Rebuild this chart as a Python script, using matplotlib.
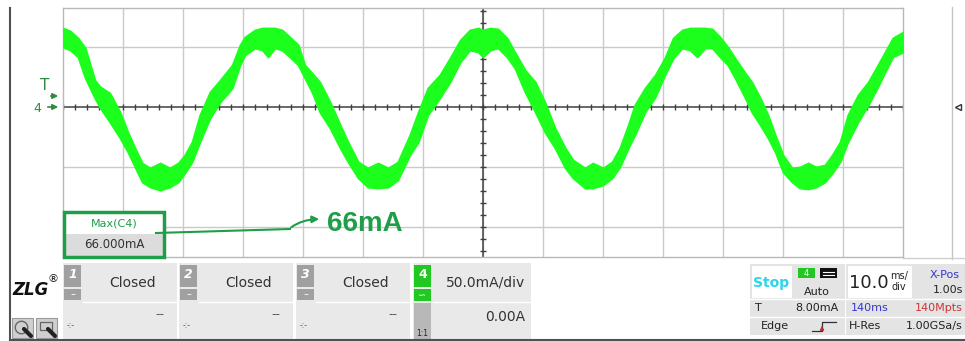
import numpy as np
import matplotlib.pyplot as plt
from matplotlib.patches import Rectangle, FancyArrowPatch

# ---- waveform envelope (time in ms, current in mA) ----
t_ms = [0.0, 1.2, 2.5, 3.7, 5.3, 6.2, 7.8, 9.5, 10.8, 12.0,
        13.2, 14.5, 16.2, 17.8, 19.2, 20.3, 21.5, 22.8, 24.5, 26.2,
        28.2, 29.5, 30.3, 32.0, 33.2, 34.2, 35.3, 36.5, 37.8, 39.2,
        40.3, 41.5, 42.8, 44.5, 46.2, 47.5, 49.2, 50.8, 52.5, 54.2,
        55.8, 57.8, 59.2, 60.8, 62.8, 64.5, 66.2, 67.8, 69.2, 70.0,
        71.2, 72.5, 74.0, 75.3, 77.0, 78.7, 80.3, 82.0, 83.7, 85.0,
        87.0, 88.3, 90.0, 91.5, 92.8, 94.2, 95.3, 97.0, 98.7, 100.3,
        101.7, 103.2, 104.5, 105.7, 107.0, 108.2, 109.5, 110.8, 112.0, 113.7,
        114.8, 116.2, 117.5, 118.7, 120.0, 121.5, 122.8, 124.2, 125.5, 127.0,
        128.2, 129.5, 130.8, 132.5, 134.2, 135.8, 137.0, 138.3, 140.0]

upper_ma = [65.8, 63.3, 57.5, 49.2, 22.5, 16.7, 11.7, -4.2, -20.8, -34.2,
            -46.7, -50.8, -46.7, -50.8, -46.7, -40.0, -29.2, -6.7, 12.5, 22.5,
            35.0, 51.7, 58.3, 64.2, 65.8, 65.8, 65.8, 64.2, 58.3, 51.7,
            35.0, 28.3, 20.8, 4.2, -15.0, -29.2, -45.8, -50.8, -46.7, -50.8,
            -45.8, -23.3, -4.2, 15.8, 26.7, 40.8, 55.8, 64.2, 65.8, 64.2,
            65.8, 65.0, 57.5, 45.8, 30.8, 20.8, 4.2, -17.5, -34.2, -44.2,
            -50.8, -46.7, -50.8, -45.8, -34.2, -15.0, 1.7, 15.8, 26.7, 40.8,
            57.5, 64.2, 65.8, 65.8, 65.8, 65.0, 58.3, 50.0, 40.8, 28.3,
            20.8, 7.5, -6.7, -23.3, -40.0, -50.8, -50.0, -46.7, -50.0, -48.3,
            -40.0, -29.2, -6.7, 10.0, 20.8, 35.0, 45.8, 57.5, 62.5]

lower_ma = [50.0, 47.5, 41.7, 24.2, 7.5, -0.8, -12.5, -25.8, -37.5, -50.0,
            -62.5, -66.7, -69.2, -66.7, -62.5, -55.0, -45.8, -29.2, -9.2, 4.2,
            15.8, 35.0, 43.3, 49.2, 47.5, 41.7, 49.2, 47.5, 41.7, 35.0,
            24.2, 12.5, -4.2, -17.5, -34.2, -45.8, -59.2, -66.7, -67.5, -66.7,
            -60.8, -40.0, -29.2, -6.7, 7.5, 20.8, 37.5, 47.5, 45.8, 41.7,
            47.5, 49.2, 41.7, 32.5, 12.5, -4.2, -20.8, -34.2, -50.8, -59.2,
            -67.5, -67.5, -65.0, -59.2, -50.0, -34.2, -23.3, -4.2, 8.3, 26.7,
            40.8, 49.2, 47.5, 41.7, 49.2, 49.2, 41.7, 35.0, 24.2, 7.5,
            -4.2, -15.0, -25.8, -37.5, -54.2, -62.5, -67.5, -68.3, -66.7, -62.5,
            -55.0, -45.8, -29.2, -12.5, 1.7, 16.7, 29.2, 41.7, 45.8]

# scope settings shown on screen
ms_per_div = 10
ma_per_div = 50
n_div_x = 14
grid_ma = [50, -50, -100]

channel_ids = ['1', '2', '3']
channel_state = 'Closed'
meas_name = 'Max(C4)'
meas_value = '66.000mA'
callout_text = '66mA'

W, H = 965, 341
GREEN = '#1e9e48'
TRACE = '#1cff1c'
GRID = '#cacaca'
AXIS = '#404040'

fig = plt.figure(figsize=(W / 100, H / 100), dpi=100)

# ---- waveform area: pixel box x 63..903, y 8..257 ----
ax = fig.add_axes([63 / W, 1 - 257 / H, 840 / W, 249 / H])
ax.set_xlim(0, ms_per_div * n_div_x)
ax.set_ylim(-125, 82.5)
ax.set_xticks([])
ax.set_yticks([])
for s in ax.spines.values():
    s.set_color('#b8b8b8')
    s.set_linewidth(1)

for k in range(1, n_div_x):
    ax.axvline(k * ms_per_div, color=GRID, lw=1, zorder=1)
for g in grid_ma:
    ax.axhline(g, color=GRID, lw=1, zorder=1)

# centre cross with minor ticks (5 per division)
t_mid = ms_per_div * n_div_x / 2
ax.axhline(0, color=AXIS, lw=1.1, zorder=2)
ax.axvline(t_mid, color=AXIS, lw=1.1, zorder=2)
xt = np.arange(0, ms_per_div * n_div_x + 0.1, ms_per_div / 5)
ax.plot(xt, np.zeros_like(xt), ls='none', marker='|', ms=5, mew=1, color=AXIS, zorder=2)
yt = np.arange(-120, 81, ma_per_div / 5)
ax.plot(np.full_like(yt, t_mid), yt, ls='none', marker='_', ms=5, mew=1, color=AXIS, zorder=2)

ax.fill_between(t_ms, lower_ma, upper_ma, color=TRACE, lw=1.4, edgecolor=TRACE, zorder=3)

# ---- overlay in pixel coordinates for the scope UI ----
ov = fig.add_axes([0, 0, 1, 1], zorder=5)
ov.set_xlim(0, W)
ov.set_ylim(H, 0)
ov.axis('off')
ov.patch.set_alpha(0)

ov.plot([10, 10], [8, 340], color='#505050', lw=1.5)
ov.plot([10, W], [339.5, 339.5], color='#505050', lw=1.5)
ov.plot([952, 952], [7, 259], color='#c4c4c4', lw=1)
ov.plot([903, 965], [258, 258], color='#d0d0d0', lw=1)
ov.plot([958], [107], marker='<', ms=4, mfc='white', mec='#333333', mew=1)

# trigger / channel markers on the left
ov.text(45, 86, 'T', color='#2e8b3e', fontsize=11, ha='center', va='center')
ov.annotate('', xy=(61, 96), xytext=(48, 96),
            arrowprops=dict(arrowstyle='-|>', color='#2e8b3e', lw=1.2, mutation_scale=8))
ov.text(37, 108, '4', color='#2e8b3e', fontsize=9, ha='center', va='center')
ov.annotate('', xy=(61, 107), xytext=(45, 107),
            arrowprops=dict(arrowstyle='-|>', color='#2e8b3e', lw=1.2, mutation_scale=8))

# measurement box
ov.add_patch(Rectangle((64, 212), 100, 45, fc='white', ec='none'))
ov.add_patch(Rectangle((64, 234), 100, 23, fc='#dcdcdc', ec='none'))
ov.add_patch(Rectangle((64, 212), 100, 45, fc='none', ec=GREEN, lw=2.5))
ov.text(114, 223, meas_name, color=GREEN, fontsize=8, ha='center', va='center')
ov.text(114, 245, meas_value, color='#333333', fontsize=8.5, ha='center', va='center')

# callout arrow and text
ov.plot([156, 290], [233, 229], color=GREEN, lw=1.5)
ov.add_patch(FancyArrowPatch((289, 229), (322, 219), connectionstyle='angle3,angleA=40,angleB=0',
                             arrowstyle='-|>', mutation_scale=10, color=GREEN, lw=1.5))
ov.text(327, 224, callout_text, color=GREEN, fontsize=20, fontweight='bold',
        family='Liberation Sans', ha='left', va='center')

# ---- bottom control strip ----
ov.text(31, 290, 'ZLG', fontsize=12, fontweight='bold', style='italic',
        ha='center', va='center', color='#111111')
ov.text(53, 279, '®', fontsize=8, ha='center', va='center', color='#111111')
for x0 in (12, 36):
    ov.add_patch(Rectangle((x0, 318), 21, 20, fc='#cfcfcf', ec='#9a9a9a', lw=0.8))
ov.plot([21], [327], marker='o', ms=9, mfc='none', mec='#666666', mew=1)
ov.add_patch(Rectangle((40, 322), 12, 8, fc='none', ec='#666666', lw=0.9))
ov.plot([24, 31], [329, 336], color='#222222', lw=3, solid_capstyle='round')
ov.plot([48, 55], [329, 336], color='#222222', lw=3, solid_capstyle='round')

panel_x = [63, 179, 296]
for cid, x0 in zip(channel_ids, panel_x):
    ov.add_patch(Rectangle((x0, 263), 114, 76, fc='#e9e9e9', ec='none'))
    ov.add_patch(Rectangle((x0 + 1, 265), 17, 22, fc='#a0a0a0', ec='none'))
    ov.add_patch(Rectangle((x0 + 1, 289), 17, 11, fc='#a0a0a0', ec='none'))
    ov.plot([x0 + 20, x0 + 114], [302, 302], color='white', lw=1)
    ov.text(x0 + 9.5, 275, cid, color='white', fontsize=9, fontweight='bold',
            style='italic', ha='center', va='center')
    ov.text(x0 + 9.5, 294, '–', color='white', fontsize=7, ha='center', va='center')
    ov.text(x0 + 70, 283, channel_state, color='#333333', fontsize=10, ha='center', va='center')
    ov.text(x0 + 8, 325, '-:-', color='#555555', fontsize=5.5, ha='center', va='center')
    ov.text(x0 + 97, 315, '--', color='#555555', fontsize=9, ha='center', va='center')

# channel 4
ov.add_patch(Rectangle((413, 263), 118, 76, fc='#e9e9e9', ec='none'))
ov.add_patch(Rectangle((414, 265), 17, 22, fc='#22c822', ec='none'))
ov.add_patch(Rectangle((414, 289), 17, 12, fc='#22c822', ec='none'))
ov.add_patch(Rectangle((414, 303), 17, 36, fc='#b8b8b8', ec='none'))
ov.plot([433, 531], [302, 302], color='white', lw=1)
ov.text(422.5, 275, '4', color='white', fontsize=9, fontweight='bold', ha='center', va='center')
ov.text(422.5, 295, '∽', color='white', fontsize=7, ha='center', va='center')
ov.text(422.5, 333, '1:1', color='#222222', fontsize=5.5, ha='center', va='center')
ov.text(486, 283, '50.0mA/div', color='#333333', fontsize=10, ha='center', va='center')
ov.text(525, 317, '0.00A', color='#333333', fontsize=10, ha='right', va='center')

# trigger / run block
ov.add_patch(Rectangle((750, 264), 95, 71, fc='#e4e4e4', ec='none'))
ov.add_patch(Rectangle((752, 266), 40, 32, fc='white', ec='none'))
ov.text(771, 283, 'Stop', color='#2ad6ee', fontsize=10, fontweight='bold', ha='center', va='center')
ov.add_patch(Rectangle((798, 268), 17, 10, fc='#22c822', ec='none'))
ov.text(806.5, 273, '4', color='white', fontsize=6, ha='center', va='center')
ov.add_patch(Rectangle((820, 268), 17, 10, fc='#111111', ec='none'))
ov.plot([823, 834], [271.5, 271.5], color='white', lw=0.8)
ov.plot([823, 834], [274.5, 274.5], color='white', lw=0.8)
ov.text(817, 292, 'Auto', color='#222222', fontsize=8, ha='center', va='center')
ov.plot([750, 845], [299, 299], color='white', lw=1)
ov.plot([750, 845], [317, 317], color='white', lw=1)
ov.text(755, 308, 'T', color='#222222', fontsize=8, ha='left', va='center')
ov.text(838, 308, '8.00mA', color='#222222', fontsize=8, ha='right', va='center')
ov.text(775, 326, 'Edge', color='#222222', fontsize=8, ha='center', va='center')
ov.plot([812, 822, 822, 836], [331, 331, 322, 322], color='#333333', lw=0.9)
ov.annotate('', xy=(822, 323), xytext=(822, 331),
            arrowprops=dict(arrowstyle='-|>', color='#b03030', lw=0.8, mutation_scale=6))

# timebase block
ov.add_patch(Rectangle((846, 264), 119, 71, fc='#e4e4e4', ec='none'))
ov.add_patch(Rectangle((848, 266), 64, 32, fc='white', ec='none'))
ov.text(869, 283, '10.0', color='#222222', fontsize=13, ha='center', va='center')
ov.text(899, 276, 'ms/', color='#222222', fontsize=7, ha='center', va='center')
ov.text(899, 287, 'div', color='#222222', fontsize=7, ha='center', va='center')
ov.text(945, 275, 'X-Pos', color='#3535d0', fontsize=8, ha='center', va='center')
ov.text(963, 290, '1.00s', color='#222222', fontsize=8, ha='right', va='center')
ov.plot([846, 965], [299, 299], color='white', lw=1)
ov.plot([846, 965], [317, 317], color='white', lw=1)
ov.text(870, 308, '140ms', color='#3535d0', fontsize=8, ha='center', va='center')
ov.text(963, 308, '140Mpts', color='#d03535', fontsize=8, ha='right', va='center')
ov.text(865, 326, 'H-Res', color='#222222', fontsize=8, ha='center', va='center')
ov.text(963, 326, '1.00GSa/s', color='#222222', fontsize=8, ha='right', va='center')

fig.savefig('out.png', dpi=100, facecolor='white')
